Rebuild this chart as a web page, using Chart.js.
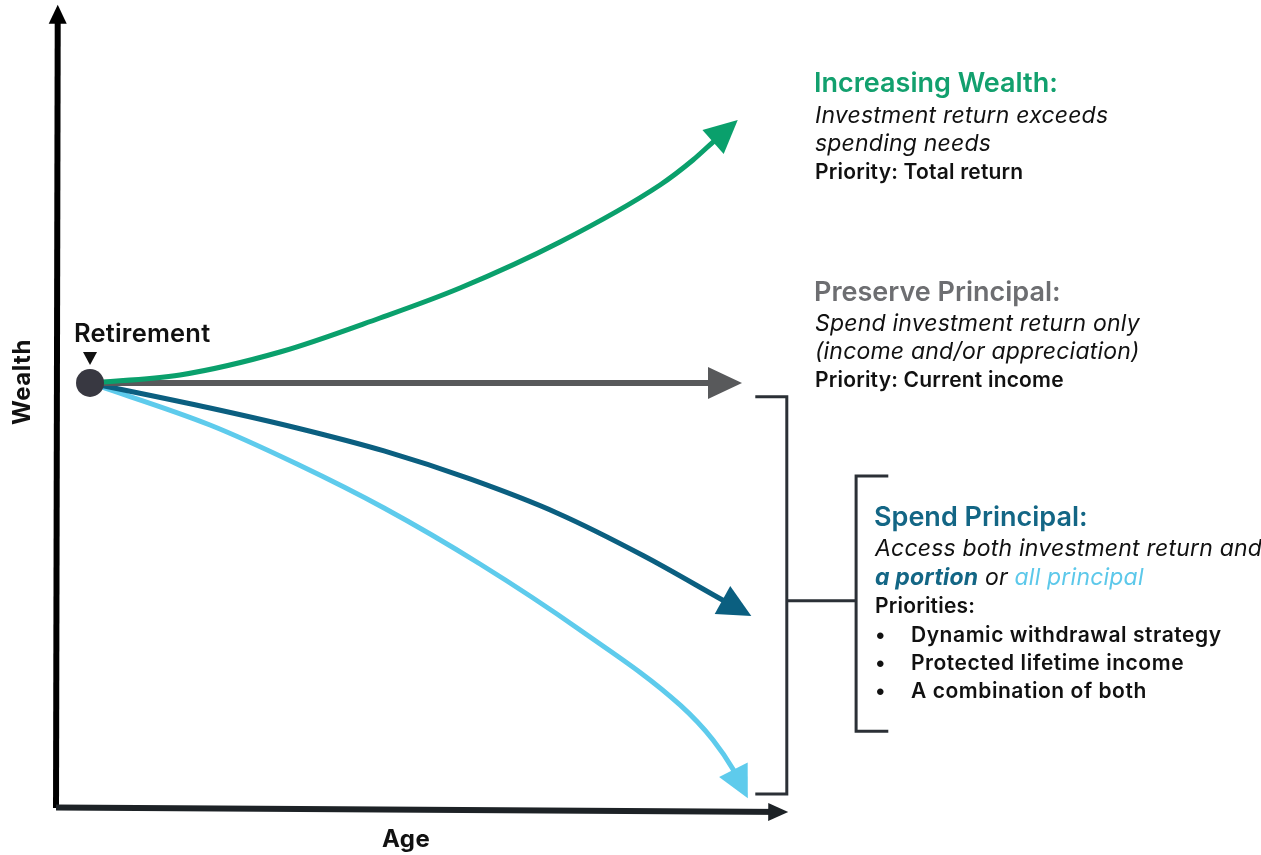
<!DOCTYPE html>
<html>
<head>
<meta charset="utf-8">
<script src="https://cdn.jsdelivr.net/npm/chart.js"></script>
<style>
  body { margin: 0; background: #fff; font-family: "Inter", "Noto Sans", sans-serif; }
  #wrap { position: relative; width: 1261px; height: 855px; }
  canvas { position: absolute; left: 0; top: 0; }
  .t { position: absolute; white-space: nowrap; color: #111; font-size: 21px; line-height: 28px; }
  .h { font-size: 27px; line-height: 32px; font-weight: 600; }
  .i { font-style: italic; font-size: 23px; letter-spacing: 0.2px; }
  .b { font-weight: 600; letter-spacing: 0.2px; }
  .bl { letter-spacing: 0.55px; }
  .green { color: #12a06e; }
  .gray { color: #6d6e71; }
  .navy { color: #136685; }
  .sky { color: #5cc8ea; }
  .ax { font-size: 24px; font-weight: 700; letter-spacing: 0.5px; }
</style>
</head>
<body>
<div id="wrap">
  <canvas id="wealthChart" width="1261" height="855"></canvas>

  <div class="t b" style="left:74px; top:318px; font-size:25.5px; line-height:30px;">Retirement</div>

  <div class="t h green" style="left:814px; top:67px;">Increasing Wealth:</div>
  <div class="t i" style="left:815px; top:101px;">Investment return exceeds</div>
  <div class="t i" style="left:815px; top:129px;">spending needs</div>
  <div class="t b" style="left:815px; top:158px;">Priority: Total return</div>

  <div class="t h gray" style="left:814px; top:276px;">Preserve Principal:</div>
  <div class="t i" style="left:815px; top:309px;">Spend investment return only</div>
  <div class="t i" style="left:815px; top:337px;">(income and/or appreciation)</div>
  <div class="t b" style="left:815px; top:366px;">Priority: Current income</div>

  <div class="t h navy" style="left:874px; top:501px;">Spend Principal:</div>
  <div class="t i" style="left:875px; top:534px;">Access both investment return and</div>
  <div class="t i" style="left:875px; top:563px;"><span class="navy" style="font-weight:700;">a portion</span> or <span class="sky">all principal</span></div>
  <div class="t b" style="left:875px; top:592px;">Priorities:</div>
  <div class="t b" style="left:875px; top:621px;">•</div>
  <div class="t b bl" style="left:911px; top:621px;">Dynamic withdrawal strategy</div>
  <div class="t b" style="left:875px; top:649px;">•</div>
  <div class="t b bl" style="left:911px; top:649px;">Protected lifetime income</div>
  <div class="t b" style="left:875px; top:677px;">•</div>
  <div class="t b bl" style="left:911px; top:677px;">A combination of both</div>

  <div class="t ax" style="left:382px; top:825px;">Age</div>
  <div class="t ax" style="left:-23px; top:368px; transform: rotate(-90deg); transform-origin: 45px 14px; width:90px; text-align:center;">Wealth</div>
</div>

<script>
// conceptual paths: age (x) vs wealth (y)
const increasingAge    = [4.86, 17.71, 32.0, 46.29, 57.71, 72.0, 86.29, 91.0, 93.93, 97.39];
const increasingWealth = [53.13, 54.13, 57.0, 61.25, 65.0, 70.75, 77.88, 81.0, 83.31, 86.0];

const preserveAge    = [4.86, 98.0];
const preserveWealth = [53.13, 53.13];

const portionAge    = [4.86, 22.0, 34.43, 46.86, 59.14, 71.57, 84.0, 95.34, 99.33];
const portionWealth = [53.13, 50.0, 47.5, 44.63, 41.13, 36.88, 31.5, 25.94, 24.0];

const allAge    = [4.86, 22.0, 34.43, 46.86, 60.57, 74.86, 89.14, 93.86, 96.81, 98.83];
const allWealth = [53.13, 47.88, 43.0, 37.5, 30.5, 22.25, 12.88, 8.5, 4.71, 1.21];

const retirementAge = 4.86;
const retirementWealth = 53.13;

const ageAxisAge = [0, 104.6];
const ageAxisWealth = [0.05, -0.5];
const wealthAxisAge = [0, 0.25];
const wealthAxisWealth = [0, 100.4];

function pts(xs, ys) {
    return xs.map((x, i) => ({ x: x, y: ys[i] }));
}

function arrowGeom(chart, index) {
    const meta = chart.getDatasetMeta(index);
    const n = meta.data.length;
    const tip = meta.data[n - 1];
    const prev = meta.data[n - 2];
    const ang = Math.atan2(tip.y - prev.y, tip.x - prev.x);
    const ds = chart.data.datasets[index];
    return { x: tip.x, y: tip.y, ang: ang, len: ds.arrow.len, half: ds.arrow.half };
}

function local(g, lx, ly) {
    const c = Math.cos(g.ang), s = Math.sin(g.ang);
    return [g.x + lx * c - ly * s, g.y + lx * s + ly * c];
}

const arrowPlugin = {
    id: "arrows",
    beforeDatasetDraw(chart, args) {
        const ds = chart.data.datasets[args.index];
        if (!ds.arrow) return;
        const g = arrowGeom(chart, args.index);
        const ctx = chart.ctx;
        ctx.save();
        ctx.beginPath();
        ctx.rect(0, 0, chart.width, chart.height);
        const box = [[-g.len * 0.5, -g.half - 3], [8, -g.half - 3], [8, g.half + 3], [-g.len * 0.5, g.half + 3]];
        box.forEach((p, i) => {
            const q = local(g, p[0], p[1]);
            if (i === 0) ctx.moveTo(q[0], q[1]); else ctx.lineTo(q[0], q[1]);
        });
        ctx.closePath();
        ctx.clip("evenodd");
    },
    afterDatasetDraw(chart, args) {
        const ds = chart.data.datasets[args.index];
        if (!ds.arrow) return;
        const ctx = chart.ctx;
        ctx.restore();
        const g = arrowGeom(chart, args.index);
        const a = local(g, 0, 0);
        const b = local(g, -g.len, -g.half);
        const c = local(g, -g.len, g.half);
        ctx.save();
        ctx.fillStyle = ds.borderColor;
        ctx.beginPath();
        ctx.moveTo(a[0], a[1]);
        ctx.lineTo(b[0], b[1]);
        ctx.lineTo(c[0], c[1]);
        ctx.closePath();
        ctx.fill();
        ctx.restore();
    },
    afterDatasetsDraw(chart) {
        const ctx = chart.ctx;
        const x = chart.scales.x, y = chart.scales.y;

        // brackets grouping the two spend-principal paths
        ctx.save();
        ctx.strokeStyle = "#2b3036";
        ctx.lineWidth = 3;
        ctx.lineCap = "butt";
        ctx.beginPath();
        ctx.moveTo(x.getPixelForValue(99.9), y.getPixelForValue(51.4));
        ctx.lineTo(x.getPixelForValue(104.4), y.getPixelForValue(51.4));
        ctx.lineTo(x.getPixelForValue(104.4), y.getPixelForValue(1.75));
        ctx.lineTo(x.getPixelForValue(99.9), y.getPixelForValue(1.75));
        ctx.moveTo(x.getPixelForValue(104.4), y.getPixelForValue(25.9));
        ctx.lineTo(x.getPixelForValue(114.3), y.getPixelForValue(25.9));
        ctx.moveTo(x.getPixelForValue(118.9), y.getPixelForValue(41.5));
        ctx.lineTo(x.getPixelForValue(114.3), y.getPixelForValue(41.5));
        ctx.lineTo(x.getPixelForValue(114.3), y.getPixelForValue(9.6));
        ctx.lineTo(x.getPixelForValue(118.9), y.getPixelForValue(9.6));
        ctx.stroke();

        // small pointer above the retirement dot
        const px = x.getPixelForValue(retirementAge);
        const py = y.getPixelForValue(retirementWealth);
        ctx.fillStyle = "#111";
        ctx.beginPath();
        ctx.moveTo(px - 7, py - 31);
        ctx.lineTo(px + 7, py - 31);
        ctx.lineTo(px, py - 18);
        ctx.closePath();
        ctx.fill();
        ctx.restore();
    }
};

new Chart(document.getElementById("wealthChart"), {
    type: "line",
    data: {
        datasets: [
            {
                label: "Retirement",
                data: [{ x: retirementAge, y: retirementWealth }],
                showLine: false,
                pointRadius: 14,
                pointBackgroundColor: "#383841",
                pointBorderWidth: 0
            },
            {
                label: "Increasing Wealth",
                data: pts(increasingAge, increasingWealth),
                borderColor: "#0aa06c",
                borderWidth: 5,
                cubicInterpolationMode: "monotone",
                arrow: { len: 33, half: 16 }
            },
            {
                label: "Preserve Principal",
                data: pts(preserveAge, preserveWealth),
                borderColor: "#58595b",
                borderWidth: 6,
                arrow: { len: 34, half: 16 }
            },
            {
                label: "Spend a portion",
                data: pts(portionAge, portionWealth),
                borderColor: "#0b5f80",
                borderWidth: 5,
                cubicInterpolationMode: "monotone",
                arrow: { len: 33, half: 16 }
            },
            {
                label: "Spend all principal",
                data: pts(allAge, allWealth),
                borderColor: "#5ecbec",
                borderWidth: 5,
                cubicInterpolationMode: "monotone",
                arrow: { len: 32, half: 16 }
            },
            {
                label: "Age axis",
                data: pts(ageAxisAge, ageAxisWealth),
                borderColor: "#1d2226",
                borderWidth: 6,
                arrow: { len: 20, half: 9 }
            },
            {
                label: "Wealth axis",
                data: pts(wealthAxisAge, wealthAxisWealth),
                borderColor: "#000000",
                borderWidth: 6,
                arrow: { len: 19, half: 9 }
            }
        ]
    },
    options: {
        responsive: false,
        animation: false,
        clip: false,
        layout: { autoPadding: false, padding: { left: 56, right: 470, top: 0, bottom: 39 } },
        elements: { point: { radius: 0 }, line: { borderCapStyle: "butt" } },
        scales: {
            x: { type: "linear", min: 0, max: 105, display: false },
            y: { type: "linear", min: -1, max: 101, display: false }
        },
        plugins: {
            legend: { display: false },
            tooltip: { enabled: false }
        }
    },
    plugins: [arrowPlugin]
});
</script>
</body>
</html>
